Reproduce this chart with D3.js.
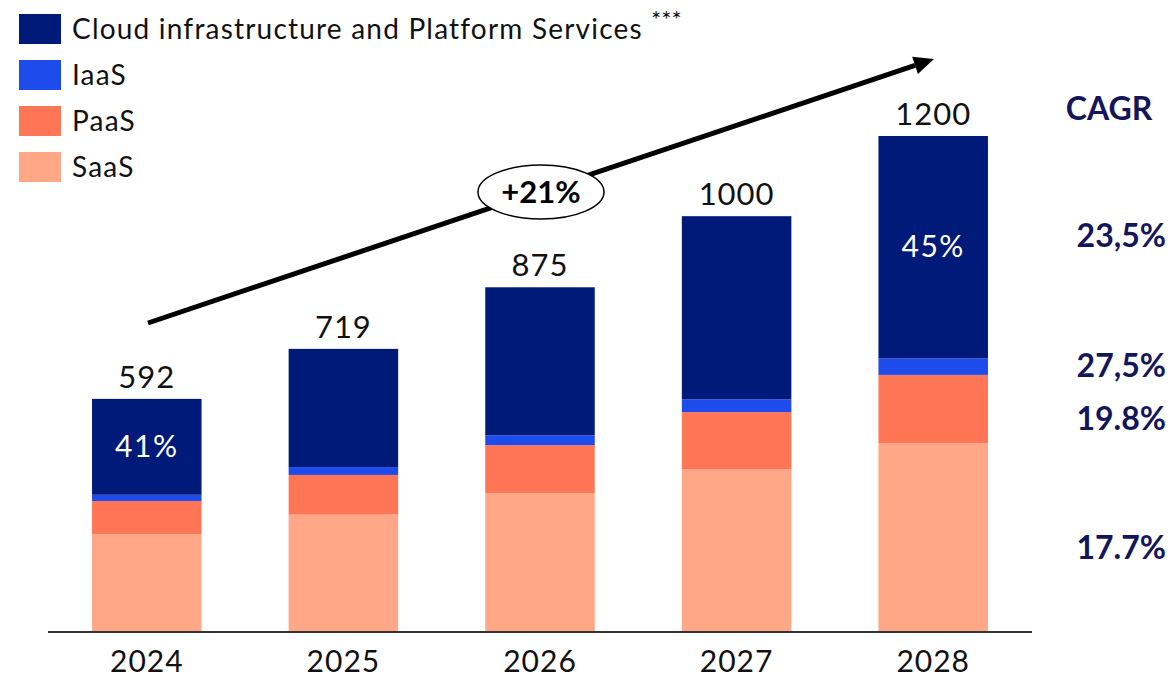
<!DOCTYPE html>
<style>
body { margin: 0; background: #fff; }
</style>
<svg width="1171" height="679" font-family="Lato, 'Open Sans', sans-serif"></svg>
<script src="https://d3js.org/d3.v7.min.js"></script>
<script>

// data
const years = ['2024', '2025', '2026', '2027', '2028'];
const totals = [592, 719, 875, 1000, 1200];
const saas = [237, 284, 336, 394, 457];
const paas = [80, 96, 116, 138, 165];
const iaas = [15, 19, 24, 31, 40];
const cloud = [232, 286, 358, 443, 538];
const cloudShare = ['41%', '', '', '', '45%'];
const seriesNames = ['Cloud infrastructure and Platform Services', 'IaaS', 'PaaS', 'SaaS'];
const cagrLabels = ['23,5%', '27,5%', '19.8%', '17.7%'];
const growthLabel = '+21%';

const colors = {saas: '#ffa786', paas: '#ff7657', iaas: '#1e4beb', cloud: '#001a7a'};

const svg = d3.select('svg');
const baseY = 632;

const x = d3.scaleBand()
	.domain(years)
	.range([48, 1032])
	.paddingInner(0.443)
	.paddingOuter(0.224);

const y = d3.scaleLinear()
	.domain([0, 1200])
	.range([baseY, 136]);

const rows = years.map((yr, i) => ({year: yr, saas: saas[i], paas: paas[i], iaas: iaas[i], cloud: cloud[i]}));
const stack = d3.stack().keys(['saas', 'paas', 'iaas', 'cloud']);
const layers = stack(rows);

svg.append('g')
	.selectAll('g')
	.data(layers)
	.join('g')
	.attr('fill', (d) => colors[d.key])
	.selectAll('rect')
	.data((d) => d)
	.join('rect')
	.attr('x', (d) => x(d.data.year))
	.attr('y', (d) => y(d[1]))
	.attr('width', x.bandwidth())
	.attr('height', (d) => y(d[0]) - y(d[1]));

// axis line
svg.append('line')
	.attr('x1', x.range()[0])
	.attr('x2', x.range()[1])
	.attr('y1', baseY)
	.attr('y2', baseY)
	.attr('stroke', '#333')
	.attr('stroke-width', 2);

// year labels
svg.append('g')
	.selectAll('text')
	.data(years)
	.join('text')
	.attr('x', (d) => x(d) + x.bandwidth() / 2)
	.attr('y', 672)
	.attr('text-anchor', 'middle')
	.attr('font-size', 30)
	.attr('letter-spacing', 1)
	.attr('fill', '#111')
	.text((d) => d);

// totals
const topOf = (i) => layers[3][i][1];
svg.append('g')
	.selectAll('text')
	.data(totals)
	.join('text')
	.attr('x', (d, i) => x(years[i]) + x.bandwidth() / 2)
	.attr('y', (d, i) => y(topOf(i)) - 11)
	.attr('text-anchor', 'middle')
	.attr('font-size', 31)
	.attr('letter-spacing', 1)
	.attr('fill', '#111')
	.text((d) => d);

// share inside cloud segment
svg.append('g')
	.selectAll('text')
	.data(layers[3])
	.join('text')
	.attr('x', (d) => x(d.data.year) + x.bandwidth() / 2)
	.attr('y', (d) => (y(d[0]) + y(d[1])) / 2 + 10)
	.attr('text-anchor', 'middle')
	.attr('font-size', 30)
	.attr('letter-spacing', 1.5)
	.attr('fill', '#fff')
	.text((d, i) => cloudShare[i]);

// legend
const legend = svg.append('g');
const legendKeys = ['cloud', 'iaas', 'paas', 'saas'];
const item = legend.selectAll('g')
	.data(seriesNames)
	.join('g')
	.attr('transform', (d, i) => `translate(19, ${14 + i * 46})`);
item.append('rect')
	.attr('width', 42)
	.attr('height', 30)
	.attr('fill', (d, i) => colors[legendKeys[i]]);
item.append('text')
	.attr('x', 53)
	.attr('y', 25)
	.attr('font-size', 28)
	.attr('letter-spacing', 1.2)
	.attr('fill', '#111')
	.text((d) => d);
legend.append('text')
	.attr('x', 651)
	.attr('y', 28)
	.attr('font-size', 24)
	.attr('fill', '#111')
	.text('***');

// growth arrow
const arrow = svg.append('g');
const x0 = 148, y0 = 323, x1 = 934, y1 = 59;
const ang = Math.atan2(y1 - y0, x1 - x0);
const headLen = 20, headW = 9;
const bx = x1 - headLen * Math.cos(ang), by = y1 - headLen * Math.sin(ang);
arrow.append('line')
	.attr('x1', x0).attr('y1', y0)
	.attr('x2', bx).attr('y2', by)
	.attr('stroke', '#000')
	.attr('stroke-width', 5);
arrow.append('polygon')
	.attr('points', [
		[x1, y1],
		[bx + headW * Math.sin(ang), by - headW * Math.cos(ang)],
		[bx - headW * Math.sin(ang), by + headW * Math.cos(ang)]
	].map((p) => p.join(',')).join(' '))
	.attr('fill', '#000');
arrow.append('ellipse')
	.attr('cx', 541)
	.attr('cy', 192)
	.attr('rx', 63)
	.attr('ry', 27)
	.attr('fill', '#fff')
	.attr('stroke', '#000')
	.attr('stroke-width', 1.5);
arrow.append('text')
	.attr('x', 541)
	.attr('y', 203)
	.attr('text-anchor', 'middle')
	.attr('font-size', 31)
	.attr('font-weight', 'bold')
	.attr('fill', '#000')
	.text(growthLabel);

// CAGR column
const cagr = svg.append('g')
	.attr('fill', '#14165c')
	.attr('font-weight', 'bold')
	.attr('font-size', 32);
cagr.append('text')
	.attr('x', 1109)
	.attr('y', 120)
	.attr('text-anchor', 'middle')
	.text('CAGR');
const cagrY = [247, 377, 430, 559];
cagr.selectAll('text.v')
	.data(cagrLabels)
	.join('text')
	.attr('class', 'v')
	.attr('x', 1166)
	.attr('y', (d, i) => cagrY[i])
	.attr('text-anchor', 'end')
	.text((d) => d);

</script>
